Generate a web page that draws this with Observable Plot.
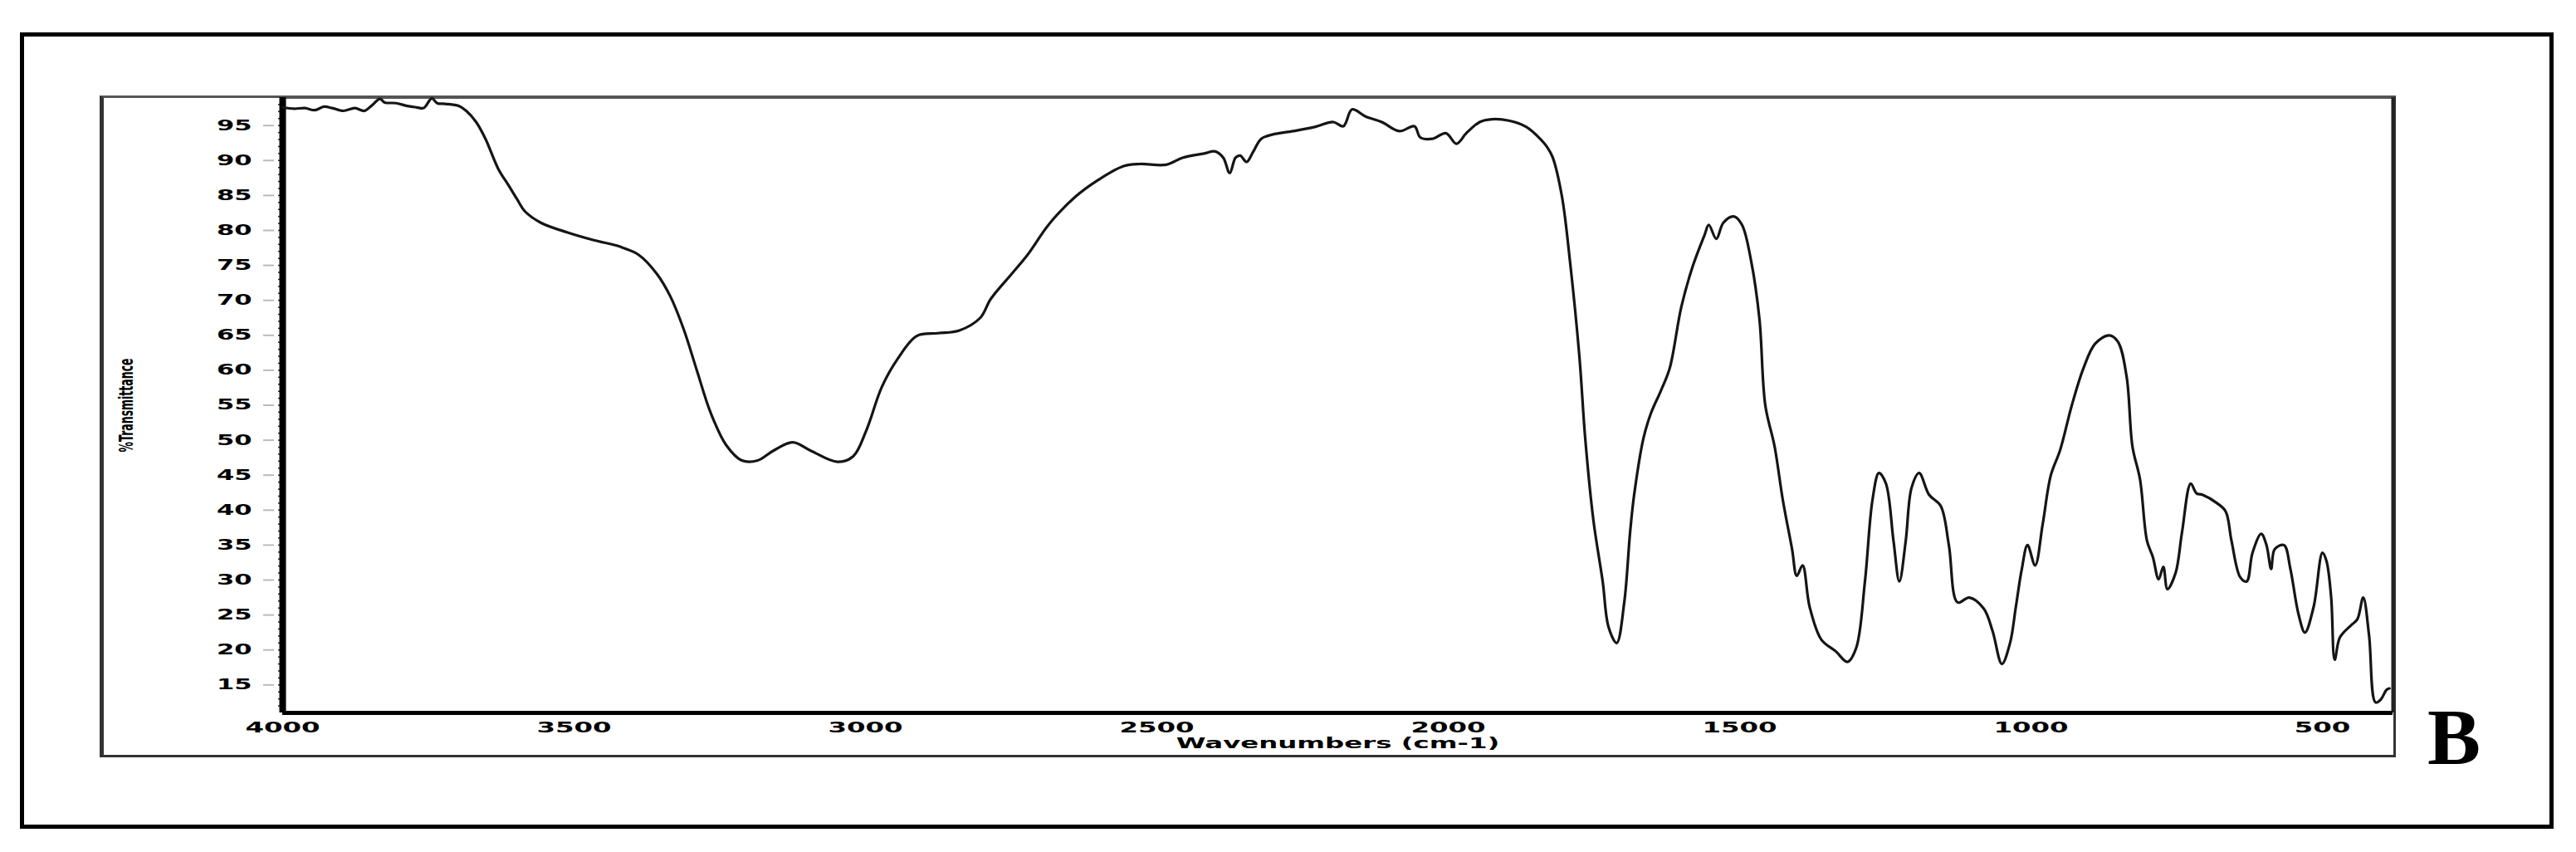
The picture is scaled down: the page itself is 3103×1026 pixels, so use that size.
<!DOCTYPE html>
<html>
<head>
<meta charset="utf-8">
<script src="https://cdn.jsdelivr.net/npm/d3@7"></script>
<script src="https://cdn.jsdelivr.net/npm/@observablehq/plot@0.6"></script>
<style>
  html, body { margin: 0; padding: 0; background: #fff; }
  body { width: 3103px; height: 1026px; position: relative; overflow: hidden; }
  #chart { position: absolute; left: 0; top: 0; }
  .outer { position: absolute; left: 24px; top: 39px; width: 3042px; height: 949px; border: 5px solid #000; pointer-events: none; }
  .inner { position: absolute; left: 120px; top: 115px; width: 2758px; height: 791px;
           border-top: 3px solid #555; border-right: 3px solid #333; border-bottom: 3px solid #333; border-left: 5px solid #333; pointer-events: none; }
  .panel { position: absolute; left: 2924px; top: 840px; font: bold 96px "Liberation Serif", "Times New Roman", serif; line-height: 96px; color: #000; }
</style>
</head>
<body>
<div class="inner"></div>
<div class="outer"></div>
<div id="chart"></div>
<div class="panel">B</div>
<script>
// Wavenumber (cm-1) and %Transmittance
const wavenumbers = [
  4000, 3980, 3962, 3945, 3929, 3915, 3896, 3876, 3860, 3848, 3833, 3825, 3805, 3786, 3770, 3758, 3744, 3735, 3721, 3698,
  3685, 3668, 3652, 3630, 3612, 3598, 3584, 3557, 3511, 3466, 3422, 3389, 3358, 3335, 3312, 3289, 3266, 3239, 3212, 3185,
  3158, 3125, 3094, 3048, 3021, 2999, 2972, 2945, 2912, 2876, 2839, 2803, 2785, 2749, 2722, 2685, 2640, 2601, 2557, 2529,
  2484, 2456, 2419, 2400, 2386, 2375, 2365, 2357, 2346, 2335, 2321, 2302, 2266, 2229, 2197, 2180, 2165, 2142, 2114, 2084,
  2058, 2048, 2027, 2004, 1986, 1969, 1946, 1925, 1896, 1866, 1841, 1831, 1821, 1805, 1791, 1775, 1765, 1751, 1735, 1725,
  1711, 1698, 1688, 1681, 1665, 1652, 1635, 1620, 1600, 1580, 1560, 1553, 1540, 1528, 1510, 1496, 1480, 1466, 1456, 1440,
  1426, 1410, 1402, 1392, 1380, 1360, 1335, 1315, 1300, 1285, 1272, 1261, 1249, 1236, 1226, 1215, 1205, 1192, 1175, 1155,
  1141, 1126, 1106, 1081, 1066, 1050, 1036, 1026, 1016, 1006, 993, 980, 966, 950, 930, 910, 890, 866, 851, 836,
  826, 813, 801, 791, 781, 773, 766, 752, 741, 726, 716, 706, 681, 666, 656, 641, 630, 620, 605, 596,
  588, 582, 566, 555, 541, 530, 515, 500, 493, 485, 479, 470, 450, 440, 430, 420, 409, 400, 390, 385
];
const transmittance = [
  97.6, 97.4, 97.5, 97.2, 97.7, 97.5, 97.1, 97.5, 97.1, 97.8, 98.8, 98.3, 98.2, 97.8, 97.6, 97.5, 98.9, 98.2, 98.1, 97.8,
  97.1, 95.5, 93.1, 88.8, 86.4, 84.5, 82.7, 81.1, 79.7, 78.6, 77.7, 76.5, 73.8, 70.6, 65.9, 59.9, 54.0, 49.3, 47.1, 47.1,
  48.5, 49.7, 48.5, 46.9, 47.7, 51.3, 57.6, 61.6, 64.9, 65.3, 65.7, 67.5, 70.2, 73.8, 76.5, 80.9, 84.8, 87.2, 89.2, 89.5,
  89.4, 90.4, 91.0, 91.3, 90.4, 88.2, 90.4, 90.7, 89.8, 91.2, 93.1, 93.7, 94.2, 94.8, 95.5, 94.9, 97.3, 96.3, 95.5, 94.2,
  94.9, 93.3, 93.1, 93.9, 92.4, 93.9, 95.5, 95.9, 95.7, 94.8, 93.0, 92.0, 90.5, 84.9, 75.5, 62.0, 50.3, 38.6, 29.8, 23.3,
  21.0, 26.8, 36.8, 42.2, 50.3, 53.9, 57.1, 60.3, 69.1, 75.0, 79.4, 80.8, 78.8, 81.1, 82.0, 80.8, 75.5, 67.3, 55.0, 49.1,
  41.5, 34.4, 30.6, 32.1, 26.2, 21.5, 19.8, 18.3, 20.3, 29.8, 41.5, 45.3, 43.8, 35.6, 29.8, 35.6, 43.2, 45.3, 42.2, 40.6,
  35.0, 26.8, 27.5, 25.9, 22.7, 18.0, 21.0, 26.2, 31.5, 35.0, 32.1, 38.0, 45.0, 48.6, 55.0, 60.3, 63.8, 65.0, 64.1, 59.1,
  49.1, 44.4, 35.6, 33.3, 30.1, 31.9, 28.7, 31.0, 36.8, 43.8, 42.4, 42.2, 41.0, 39.8, 35.6, 30.4, 29.8, 33.9, 36.6, 35.0,
  31.6, 34.4, 35.0, 31.6, 25.1, 22.5, 26.2, 33.9, 32.7, 27.5, 18.6, 21.8, 23.6, 24.4, 27.5, 22.1, 12.5, 12.9, 14.3, 14.5
];
const xTicks = [4000, 3500, 3000, 2500, 2000, 1500, 1000, 500];
const yTicks = [15, 20, 25, 30, 35, 40, 45, 50, 55, 60, 65, 70, 75, 80, 85, 90, 95];
const yMinorTicks = d3.range(12, 99, 1);
const xLabel = "Wavenumbers (cm-1)";
const yLabel = "%Transmittance";

const spectrum = wavenumbers.map((w, i) => ({w, t: transmittance[i]}));

const chart = Plot.plot({
  width: 3103,
  height: 1026,
  marginLeft: 340,
  marginRight: 221,
  marginTop: 117,
  marginBottom: 168,
  style: {background: "transparent", fontFamily: "DejaVu Sans, sans-serif", color: "#000", overflow: "visible"},
  x: {domain: [4000, 379]},
  y: {domain: [11, 99]},
  marks: [
    Plot.axisY({ticks: yMinorTicks, tickSize: 5, text: null, label: null, stroke: "#222", strokeWidth: 1.5}),
    Plot.axisY({ticks: yTicks, tickSize: 13, dx: -10, text: null, label: null, stroke: "#bbb", strokeWidth: 2}),
    Plot.axisY({ticks: yTicks, tickSize: 0, tickPadding: 37, label: null, fontSize: 17, fontWeight: "bold", tickFormat: d => String(d)}),
    Plot.axisY({ticks: [], tickSize: 0, label: yLabel, labelAnchor: "center", labelOffset: 196, labelArrow: "none", fontSize: 12.5, fontWeight: "bold"}),
    Plot.axisX({ticks: xTicks, tickSize: 0, tickPadding: 11, fontSize: 18, fontWeight: "bold", tickFormat: d => String(d),
                label: xLabel, labelAnchor: "center", labelOffset: 42, labelArrow: "none"}),
    Plot.ruleY([99], {stroke: "#555", strokeWidth: 3}),
    Plot.ruleX([379], {stroke: "#222", strokeWidth: 4}),
    Plot.ruleY([11], {stroke: "#000", strokeWidth: 5}),
    Plot.ruleX([4000], {stroke: "#000", strokeWidth: 8}),
    Plot.line(spectrum, {x: "w", y: "t", stroke: "#151515", strokeWidth: 3.2, curve: "catmull-rom"})
  ]
});

function stretch(selector, sx, sy) {
  chart.querySelectorAll(selector).forEach(el => {
    const t = el.getAttribute("transform") || "";
    el.setAttribute("transform", `${t} scale(${sx},${sy})`);
  });
}
stretch('g[aria-label="x-axis tick label"] text', 1.8, 1);
stretch('g[aria-label="y-axis tick label"] text', 1.8, 1);
stretch('g[aria-label="x-axis label"] text', 1.8, 1);
stretch('g[aria-label="y-axis label"] text', 1, 1.8);

document.getElementById("chart").appendChild(chart);
</script>
</body>
</html>
